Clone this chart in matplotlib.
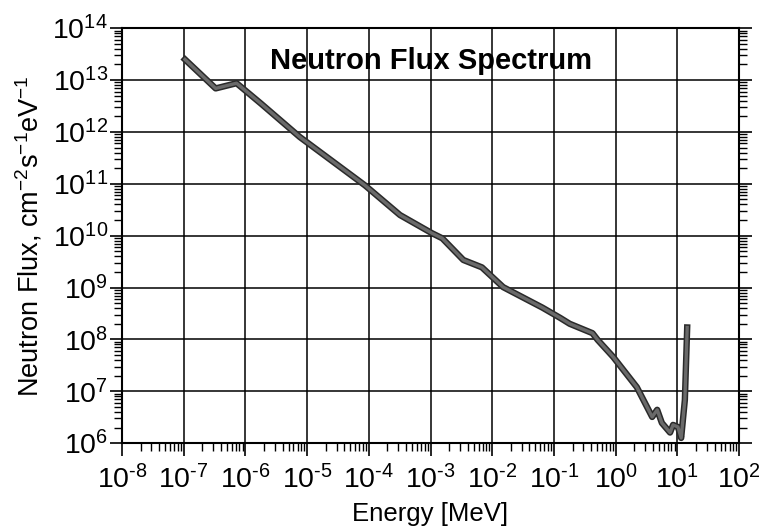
import matplotlib
matplotlib.use("Agg")
import matplotlib.pyplot as plt
import matplotlib.patheffects as pe
from matplotlib.ticker import LogLocator, NullFormatter, FuncFormatter
import numpy as np

plt.rcParams['font.family'] = ['Liberation Sans', 'DejaVu Sans']
plt.rcParams['mathtext.fontset'] = 'custom'
plt.rcParams['mathtext.rm'] = 'Liberation Sans'
plt.rcParams['mathtext.it'] = 'Liberation Sans'

# energy [MeV] and flux [cm^-2 s^-1 eV^-1]
energy = [1.05e-7, 3.3e-7, 7.2e-7, 1.8e-6, 7.6e-6, 8.7e-5, 3.2e-4, 1.05e-3,
          1.55e-3, 3.4e-3, 6.8e-3, 1.5e-2, 6.5e-2, 0.126, 0.18, 0.42, 0.51,
          0.91, 2.2, 3.9, 4.7, 5.6, 7.6, 8.5, 10.2, 11.5, 13.2, 14.4]
flux = [2.5e13, 6.9e12, 8.7e12, 3.5e12, 8.0e11, 9.3e10, 2.5e10, 1.12e10,
        8.9e9, 3.4e9, 2.45e9, 1.02e9, 4.1e8, 2.6e8, 2.0e8, 1.32e8, 9.8e7,
        4.6e7, 1.2e7, 3.2e6, 4.4e6, 2.45e6, 1.6e6, 2.25e6, 2.05e6, 1.26e6,
        6.8e6, 1.7e8]

x_decades = list(range(-8, 3))
y_decades = list(range(6, 15))


def pow_label(v, pos):
    e = int(round(np.log10(v)))
    # short hyphen instead of the long math minus, as in the original
    return r'$\mathdefault{10^{%s}}$' % str(e).replace('-', '\u2010')


fig = plt.figure(figsize=(7.62, 5.32), dpi=100)
ax = fig.add_axes([0.160, 0.167, 0.810, 0.780])

ax.loglog(energy, flux, color='#6a6a6a', lw=2.4, solid_joinstyle='round',
          path_effects=[pe.Stroke(linewidth=4.6, foreground='#2a2a2a'), pe.Normal()])

ax.set_xlim(1e-8, 1e2)
ax.set_ylim(1e6, 1e14)
ax.set_xticks([10.0 ** d for d in x_decades])
ax.set_yticks([10.0 ** d for d in y_decades])
ax.xaxis.set_minor_locator(LogLocator(base=10, subs=range(2, 10), numticks=100))
ax.yaxis.set_minor_locator(LogLocator(base=10, subs=range(2, 10), numticks=100))
ax.xaxis.set_major_formatter(FuncFormatter(pow_label))
ax.yaxis.set_major_formatter(FuncFormatter(pow_label))
ax.xaxis.set_minor_formatter(NullFormatter())
ax.yaxis.set_minor_formatter(NullFormatter())

ax.grid(True, which='major', color='black', lw=1.1)
ax.tick_params(which='both', direction='out', top=False, right=True,
               labelsize=20.5, color='black')
ax.tick_params(which='major', length=9, width=1.2)
ax.tick_params(axis='x', which='major', pad=7)
ax.tick_params(axis='y', which='major', pad=1)
ax.tick_params(which='minor', length=5.5, width=1.0,
               labelbottom=False, labelleft=False)
for s in ax.spines.values():
    s.set_linewidth(1.5)

ax.set_xlabel('Energy [MeV]', fontsize=18.5, labelpad=5)
ax.set_ylabel(r'Neutron Flux, cm$^{-2}$s$^{-1}$eV$^{-1}$', fontsize=19.5, labelpad=6)
ax.text(0.5, 0.922, 'Neutron Flux Spectrum', transform=ax.transAxes,
        ha='center', va='center', fontsize=21, fontweight='bold')

fig.savefig('out.png', dpi=100)
